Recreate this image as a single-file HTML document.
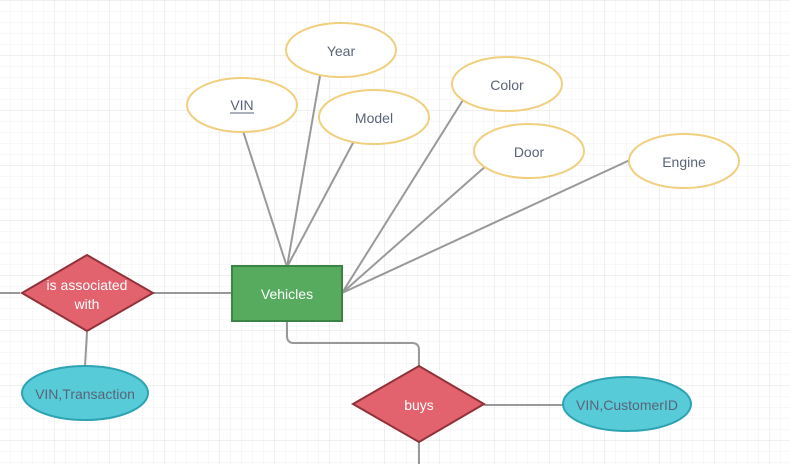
<!DOCTYPE html><html><head><style>body{margin:0;background:#fff}svg{display:block}text{font-family:"Liberation Sans",sans-serif;font-size:14px;text-anchor:middle;dominant-baseline:central}</style></head><body>
<svg width="790" height="464" viewBox="0 0 790 464" xmlns="http://www.w3.org/2000/svg">
<defs>
<pattern id="mi" width="11" height="11" patternUnits="userSpaceOnUse" x="0" y="1"><path d="M11 0V11M0 11H11" stroke="#f1f1f1" stroke-width="1" fill="none"/></pattern>
<pattern id="ma" width="55" height="55" patternUnits="userSpaceOnUse" x="0" y="1"><path d="M55 0V55M0 55H55" stroke="#e2e2e2" stroke-width="1" fill="none"/></pattern>
</defs>
<rect width="790" height="464" fill="url(#mi)"/><rect width="790" height="464" fill="url(#ma)"/>
<g stroke="#999" stroke-width="2" fill="none">
<line x1="243" y1="131" x2="287" y2="267"/>
<line x1="320" y1="76" x2="287" y2="267"/>
<line x1="354" y1="141" x2="287" y2="267"/>
<line x1="463" y1="100" x2="342" y2="293"/>
<line x1="487" y1="165" x2="342" y2="293"/>
<line x1="630" y1="160" x2="342" y2="293"/>
<line x1="153" y1="293" x2="232" y2="293"/>
<line x1="87" y1="332" x2="85" y2="366"/>
<path d="M0 293H20"/>
<path d="M287 321V336Q287 343 294 343H412Q419 343 419 350V366"/>
<path d="M419 442V464"/>
<line x1="484" y1="405" x2="563" y2="405"/>
</g>
<g fill="#fff" stroke="#f0cf7f" stroke-width="2">
<ellipse cx="242" cy="105" rx="55" ry="27"/>
<ellipse cx="341" cy="50" rx="55" ry="27"/>
<ellipse cx="374" cy="117" rx="55" ry="27"/>
<ellipse cx="507" cy="84" rx="55" ry="27"/>
<ellipse cx="529" cy="151" rx="55" ry="27"/>
<ellipse cx="684" cy="161" rx="55" ry="27"/>
</g>
<g fill="#5a6478">
<text x="242" y="105">VIN</text><line x1="230" y1="113" x2="254" y2="113" stroke="#5a6478"/>
<text x="341" y="51">Year</text>
<text x="374" y="118">Model</text>
<text x="507" y="85">Color</text>
<text x="529" y="152">Door</text>
<text x="684" y="162">Engine</text>
</g>
<rect x="232" y="266" width="110" height="55" fill="#57ab5f" stroke="#3c8446" stroke-width="2"/>
<text x="287" y="294" fill="#fff">Vehicles</text>
<polygon points="87,255 153,293 87,331 22,293" fill="#e2626d" stroke="#90323a" stroke-width="2"/>
<text x="87" y="285" fill="#fff">is associated</text>
<text x="87" y="304" fill="#fff">with</text>
<polygon points="419,366 484,404 419,442 353,404" fill="#e2626d" stroke="#90323a" stroke-width="2"/>
<text x="419" y="405" fill="#fff">buys</text>
<ellipse cx="85" cy="393" rx="63" ry="27" fill="#58cbd9" stroke="#2ea3b1" stroke-width="2"/>
<text x="85" y="394" fill="#5a6478">VIN,Transaction</text>
<ellipse cx="627" cy="404" rx="64" ry="27" fill="#58cbd9" stroke="#2ea3b1" stroke-width="2"/>
<text x="627" y="405" fill="#5a6478">VIN,CustomerID</text>
</svg></body></html>
